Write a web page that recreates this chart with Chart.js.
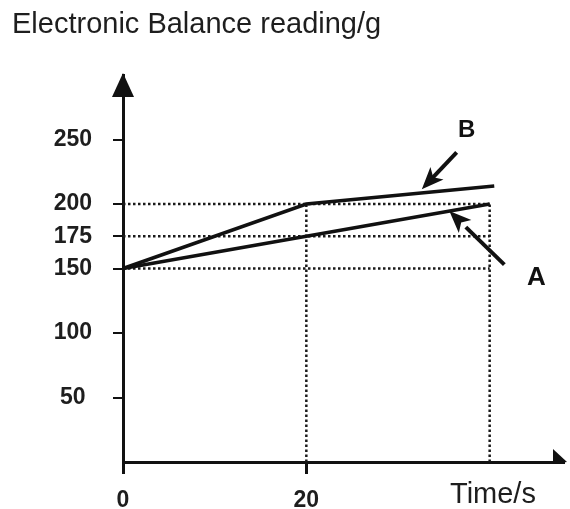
<!DOCTYPE html>
<html><head><meta charset="utf-8">
<script src="https://cdn.jsdelivr.net/npm/chart.js@4/dist/chart.umd.min.js"></script>
<style>html,body{margin:0;padding:0;background:#fff}#wrap{width:570px;height:509px;position:relative}</style>
</head><body><div id="wrap"><canvas id="c"></canvas></div>
<script>
// ---- data ----
const timeTicks = [0, 20];
const readingTicks = [50, 100, 150, 175, 200, 250];
const timesA = [0, 40];
const readingsA = [150, 200];
const timesB = [0, 20, 40.5];
const readingsB = [150, 200, 214];
const guideReadings = [150, 175, 200];   // horizontal dotted lines
const guideTimes = [20, 40];             // vertical dotted lines
const guideTimeEnd = 40;
const guideReadingTop = 200;
const seriesNames = ['A', 'B'];

// ---- annotation placement (data units) ----
const seriesLabels = [
  {text: 'A', x: 45.1, y: 143, size: 26},
  {text: 'B', x: 37.5, y: 257, size: 24}
];
const pointers = [
  {from: [41.6, 153], to: [35.6, 194.5]},
  {from: [36.4, 240], to: [32.6, 211.5]}
];

const FONT = '"Liberation Sans", Arial, sans-serif';
const INK = '#111';

const toPts = (xs, ys) => xs.map((x, i) => ({x, y: ys[i]}));

const datasets = [];
datasets.push({label: seriesNames[0], data: toPts(timesA, readingsA), borderColor: INK, borderWidth: 3.5, order: 0});
datasets.push({label: seriesNames[1], data: toPts(timesB, readingsB), borderColor: INK, borderWidth: 3.5, order: 0});
guideReadings.forEach(r => datasets.push({data: [{x: 0, y: r}, {x: guideTimeEnd, y: r}], borderColor: '#1a1a1a', borderWidth: 2.5, borderDash: [2.5, 2.5], order: 1}));
guideTimes.forEach(t => datasets.push({data: [{x: t, y: 0}, {x: t, y: guideReadingTop}], borderColor: '#1a1a1a', borderWidth: 2.5, borderDash: [2.5, 2.5], order: 1}));

function arrowHead(ctx, x1, y1, x2, y2, len, wid) {
  const a = Math.atan2(y2 - y1, x2 - x1), c = Math.cos(a), s = Math.sin(a);
  ctx.beginPath();
  ctx.moveTo(x2, y2);
  ctx.lineTo(x2 - len * c + wid * s, y2 - len * s - wid * c);
  ctx.lineTo(x2 - len * 0.75 * c, y2 - len * 0.75 * s);
  ctx.lineTo(x2 - len * c - wid * s, y2 - len * s + wid * c);
  ctx.closePath();
  ctx.fill();
}

const decor = {
  id: 'decor',
  afterDraw(chart) {
    const {ctx, chartArea: ca, scales: {x, y}} = chart;
    ctx.save();
    ctx.fillStyle = INK; ctx.strokeStyle = INK;
    // axis arrows
    ctx.beginPath();
    ctx.moveTo(ca.left, ca.top - 2); ctx.lineTo(ca.left - 11, ca.top + 22); ctx.lineTo(ca.left + 11, ca.top + 22); ctx.closePath(); ctx.fill();
    ctx.beginPath();
    ctx.moveTo(ca.right + 4, ca.bottom); ctx.lineTo(ca.right - 10, ca.bottom - 13); ctx.lineTo(ca.right - 10, ca.bottom + 2); ctx.closePath(); ctx.fill();
    // pointers
    pointers.forEach(p => {
      const x1 = x.getPixelForValue(p.from[0]), y1 = y.getPixelForValue(p.from[1]);
      const x2 = x.getPixelForValue(p.to[0]), y2 = y.getPixelForValue(p.to[1]);
      ctx.lineWidth = 4;
      ctx.beginPath(); ctx.moveTo(x1, y1); ctx.lineTo(x2 + (x1 - x2) * 0.3, y2 + (y1 - y2) * 0.3); ctx.stroke();
      arrowHead(ctx, x1, y1, x2, y2, 22, 9);
    });
    // series labels
    ctx.textAlign = 'center'; ctx.textBaseline = 'middle';
    seriesLabels.forEach(l => {
      ctx.font = 'bold ' + l.size + 'px ' + FONT;
      ctx.fillText(l.text, x.getPixelForValue(l.x), y.getPixelForValue(l.y));
    });
    // titles
    ctx.fillStyle = '#1e1e1e';
    ctx.textAlign = 'left'; ctx.textBaseline = 'alphabetic';
    ctx.font = '29px ' + FONT;
    ctx.fillText('Electronic Balance reading/g', 12, 33);
    ctx.fillText('Time/s', 450, 503);
    ctx.restore();
  }
};

new Chart(document.getElementById('c'), {
  type: 'line',
  data: {datasets},
  options: {
    responsive: true, maintainAspectRatio: false, animation: false,
    layout: {padding: {top: 75, right: 7, left: 0, bottom: 0}},
    elements: {point: {radius: 0}, line: {tension: 0, borderCapStyle: 'butt'}},
    datasets: {line: {clip: false}},
    plugins: {legend: {display: false}, tooltip: {enabled: false}},
    scales: {
      x: {
        type: 'linear', min: 0, max: 48,
        afterBuildTicks: s => { s.ticks = timeTicks.map(v => ({value: v})); },
        afterFit: s => { s.height = 47; },
        border: {display: true, color: INK, width: 3},
        grid: {drawOnChartArea: false, drawTicks: true, tickLength: 12, color: INK, lineWidth: 3},
        ticks: {color: '#1e1e1e', padding: 13, font: {family: FONT, size: 23, weight: 'bold'}, maxRotation: 0}
      },
      y: {
        type: 'linear', min: 0, max: 300,
        afterBuildTicks: s => { s.ticks = readingTicks.map(v => ({value: v})); },
        afterFit: s => { s.width = 123; },
        border: {display: true, color: INK, width: 3},
        grid: {drawOnChartArea: false, drawTicks: true, tickLength: 10, color: INK, lineWidth: 2},
        ticks: {color: '#1e1e1e', padding: 21, crossAlign: 'center', font: {family: FONT, size: 23, weight: 'bold'}}
      }
    }
  },
  plugins: [decor]
});
</script>
</body></html>
